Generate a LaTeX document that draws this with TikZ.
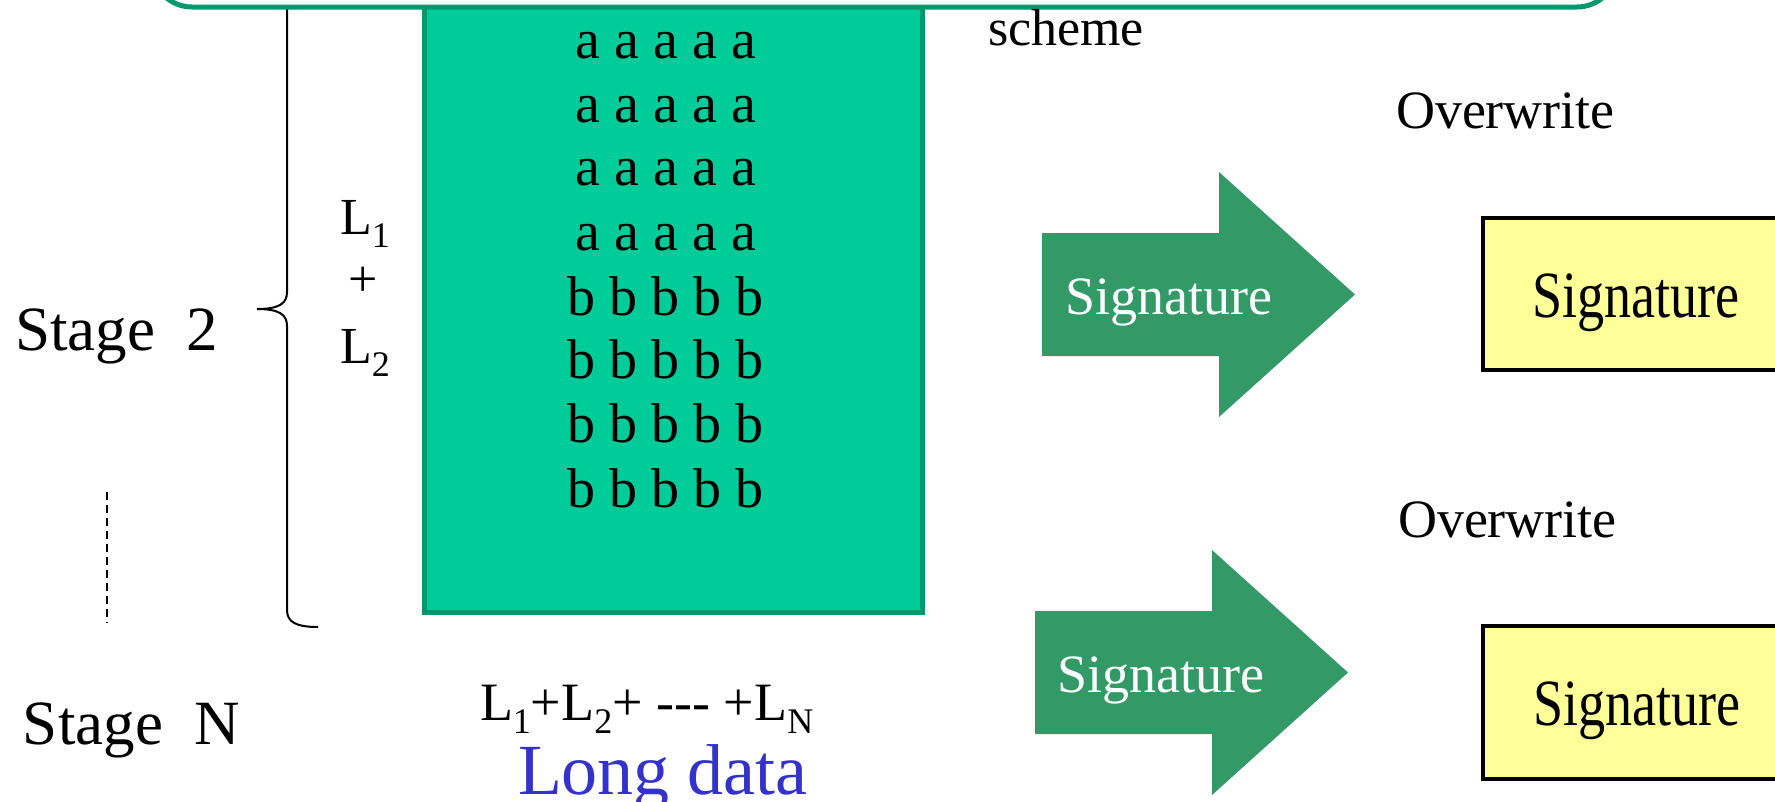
\documentclass[tikz,border=0pt]{standalone}
\usepackage{fontspec}
\setmainfont{Liberation Serif}
\newcommand{\fsz}[1]{\fontsize{#1}{#1}\selectfont}
\newcommand{\lsub}[1]{\raisebox{-13pt}{\fsz{36}#1}}
\definecolor{datafill}{HTML}{00CC99}
\definecolor{dataedge}{HTML}{00996E}
\definecolor{arrowgreen}{HTML}{339966}
\definecolor{sigyellow}{HTML}{FFFF99}
\definecolor{longblue}{HTML}{3333CC}
\tikzset{
  txt/.style={inner sep=0pt, outer sep=0pt, anchor=base west},
  ctxt/.style={inner sep=0pt, outer sep=0pt, anchor=base},
  datablock/.style={fill=datafill, draw=dataedge, line width=5pt},
  topbox/.style={fill=white, draw=dataedge, line width=5pt, rounded corners=40pt},
  sigarrow/.style={fill=arrowgreen},
  sigbox/.style={fill=sigyellow, draw=black, line width=4pt},
  bracepath/.style={draw=black, line width=2pt},
  stagedots/.style={draw=black, line width=2pt, dash pattern=on 8pt off 5pt}
}
\begin{document}
\begin{tikzpicture}[x=1pt, y=-1pt]
\useasboundingbox (0,0) rectangle (1775,801);
\clip (0,0) rectangle (1775,801);

% data block holding the a/b rows
\draw[datablock] (424,-40) rectangle (922,612);

% brace grouping L1 + L2
\draw[bracepath] (318,627) .. controls (296,627) and (287,622) .. (287,610)
  -- (287,326) .. controls (287,315) and (280,309) .. (257,309)
  .. controls (280,309) and (287,303) .. (287,292)
  -- (287,-30) .. controls (287,-42) and (296,-47) .. (318,-47);

% caption frame across the top
\draw[topbox] (152,-100) rectangle (1617,7);

% rows of the data block
\foreach \yy [count=\i] in {58,122,185,250}
  \node[ctxt] (arow\i) at (666,\yy) {\fsz{56}a a a a a};
\foreach \yy [count=\i] in {315,378,442,507}
  \node[ctxt] (brow\i) at (665,\yy) {\fsz{56}b b b b b};

% stage labels
\node[txt] (stage2) at (15,350) {\fsz{63}Stage\ \ 2};
\node[txt] (stageN) at (23,744) {\fsz{63}Stage\ \ N};
\coordinate (dotsTop) at (107,492);
\coordinate (dotsBot) at (107,623);
\draw[stagedots] (dotsTop) -- (dotsBot);

\node[txt] (lone) at (340,234) {\fsz{52}L\lsub{1}};
\node[ctxt] (lplus) at (363,296) {\fsz{52}+};
\node[txt] (ltwo) at (340,363) {\fsz{52}L\lsub{2}};

% total length and caption
\node[txt] (lsum) at (480,720) {\fsz{54}L\lsub{1}+L\lsub{2}+ -{}-{}- +L\lsub{N}};
\node[txt, text=longblue] (longdata) at (518,794) {\fsz{72}Long data};

\node[txt] (scheme) at (988,45) {\fsz{52}scheme};

% signature arrows
\fill[sigarrow] (1042,233) -- (1219,233) -- (1219,172) -- (1355,294.5)
  -- (1219,417) -- (1219,356) -- (1042,356) -- cycle;
\node[txt, text=white] (sigA) at (1065,314) {\fsz{54}Signature};
\fill[sigarrow] (1035,611) -- (1212,611) -- (1212,550) -- (1348,672.5)
  -- (1212,795) -- (1212,734) -- (1035,734) -- cycle;
\node[txt, text=white] (sigB) at (1057,692) {\fsz{54}Signature};

% overwritten signature slots
\node[txt] (overA) at (1396,128) {\fsz{54}Overwrite};
\node[txt] (overB) at (1398,537) {\fsz{54}Overwrite};
\draw[sigbox] (1483,218) rectangle (1820,370);
\draw[sigbox] (1483,626) rectangle (1820,779);
\node[ctxt, xscale=0.82] (slotA) at (1636,317) {\fsz{66}Signature};
\node[ctxt, xscale=0.82] (slotB) at (1637,725) {\fsz{66}Signature};
\end{tikzpicture}
\end{document}
